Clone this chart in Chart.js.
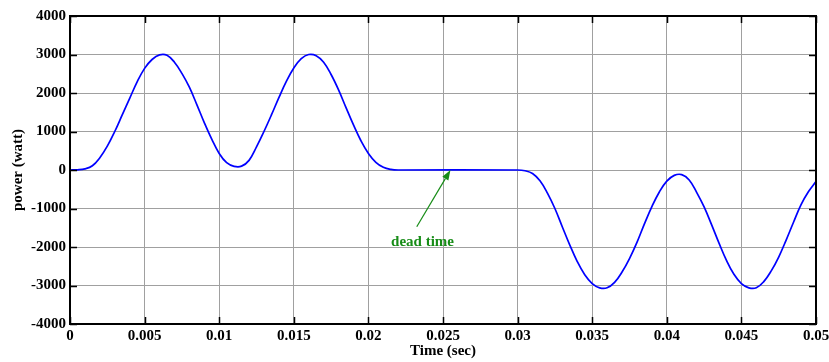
<!DOCTYPE html>
<html>
<head>
<meta charset="utf-8">
<script src="https://cdn.jsdelivr.net/npm/chart.js@4/dist/chart.umd.min.js"></script>
<style>
  html, body { margin: 0; padding: 0; background: #fff; }
  #wrap { width: 829px; height: 362px; }
</style>
</head>
<body>
<div id="wrap"><canvas id="powerChart" width="829" height="362"></canvas></div>
<script>
// time (sec) and power (watt)
const timeSec = [
    0, 0.0005, 0.001, 0.0015, 0.002, 0.0025, 0.003, 0.0035, 0.004, 0.0045,
    0.005, 0.0055, 0.006, 0.0065, 0.007, 0.0075, 0.008, 0.0085, 0.009, 0.0095,
    0.01, 0.0105, 0.011, 0.0115, 0.012, 0.0125, 0.013, 0.0135, 0.014, 0.0145,
    0.015, 0.0155, 0.016, 0.0165, 0.017, 0.0175, 0.018, 0.0185, 0.019, 0.0195,
    0.02, 0.0205, 0.021, 0.0215, 0.022,
    0.03, 0.0305, 0.031, 0.0315, 0.032, 0.0325, 0.033, 0.0335, 0.034, 0.0345,
    0.035, 0.0355, 0.036, 0.0365, 0.037, 0.0375, 0.038, 0.0385, 0.039, 0.0395,
    0.04, 0.0405, 0.041, 0.0415, 0.042, 0.0425, 0.043, 0.0435, 0.044, 0.0445,
    0.045, 0.0455, 0.046, 0.0465, 0.047, 0.0475, 0.048, 0.0485, 0.049, 0.0495,
    0.05
];
const powerWatt = [
    0, 5, 30, 110, 320, 620, 1000, 1430, 1860, 2290,
    2640, 2870, 2990, 2980, 2800, 2510, 2150, 1700, 1230, 800,
    430, 190, 95, 100, 250, 600, 1000, 1430, 1880, 2300,
    2650, 2890, 3000, 2970, 2800, 2480, 2080, 1620, 1170, 760,
    430, 200, 70, 15, 0,
    0, -20, -90, -280, -600, -1000, -1480, -1950, -2380, -2720,
    -2950, -3060, -3060, -2920, -2650, -2300, -1880, -1400, -950, -570,
    -290, -140, -120, -260, -580, -960, -1420, -1900, -2350, -2710,
    -2950, -3060, -3060, -2900, -2620, -2260, -1820, -1350, -900, -560,
    -300
];

const xTicks = [0, 0.005, 0.01, 0.015, 0.02, 0.025, 0.03, 0.035, 0.04, 0.045, 0.05];
const xTickLabels = ["0", "0.005", "0.01", "0.015", "0.02", "0.025", "0.03", "0.035", "0.04", "0.045", "0.05"];
const yTicks = [-4000, -3000, -2000, -1000, 0, 1000, 2000, 3000, 4000];

const noteText = "dead time";
const noteArrow = { from: [0.02324, -1473], to: [0.0255, 0] };
const notePos = [0.02363, -1862];

const serif = "'Liberation Serif', 'Times New Roman', serif";
const green = "#178c17";

const matlabFrame = {
    id: "matlabFrame",
    afterDatasetsDraw(chart) {
        const { ctx, chartArea: a, scales: { x, y } } = chart;
        ctx.save();
        // inward tick marks on all four sides
        ctx.strokeStyle = "#000";
        ctx.lineWidth = 1.5;
        ctx.beginPath();
        x.ticks.forEach(t => {
            const px = Math.round(x.getPixelForValue(t.value)) + 0.5;
            ctx.moveTo(px, a.bottom); ctx.lineTo(px, a.bottom - 7);
            ctx.moveTo(px, a.top); ctx.lineTo(px, a.top + 7);
        });
        y.ticks.forEach(t => {
            const py = Math.round(y.getPixelForValue(t.value)) + 0.5;
            ctx.moveTo(a.left, py); ctx.lineTo(a.left + 7, py);
            ctx.moveTo(a.right, py); ctx.lineTo(a.right - 7, py);
        });
        ctx.stroke();
        ctx.lineWidth = 2;
        ctx.strokeRect(a.left, a.top, a.right - a.left, a.bottom - a.top);

        // "dead time" arrow
        const x0 = x.getPixelForValue(noteArrow.from[0]), y0 = y.getPixelForValue(noteArrow.from[1]);
        const x1 = x.getPixelForValue(noteArrow.to[0]), y1 = y.getPixelForValue(noteArrow.to[1]);
        const ang = Math.atan2(y1 - y0, x1 - x0);
        const hl = 10, hw = 3.5;
        ctx.strokeStyle = green;
        ctx.fillStyle = green;
        ctx.lineWidth = 1.2;
        ctx.beginPath();
        ctx.moveTo(x0, y0);
        ctx.lineTo(x1 - hl * Math.cos(ang), y1 - hl * Math.sin(ang));
        ctx.stroke();
        ctx.beginPath();
        ctx.moveTo(x1, y1);
        ctx.lineTo(x1 - hl * Math.cos(ang) + hw * Math.sin(ang), y1 - hl * Math.sin(ang) - hw * Math.cos(ang));
        ctx.lineTo(x1 - hl * Math.cos(ang) - hw * Math.sin(ang), y1 - hl * Math.sin(ang) + hw * Math.cos(ang));
        ctx.closePath();
        ctx.fill();

        ctx.font = "bold 15px " + serif;
        ctx.textAlign = "center";
        ctx.textBaseline = "middle";
        ctx.fillText(noteText, x.getPixelForValue(notePos[0]), y.getPixelForValue(notePos[1]));
        ctx.restore();
    }
};

const tickFont = { family: serif, size: 15, weight: "bold" };

new Chart(document.getElementById("powerChart"), {
    type: "line",
    data: {
        datasets: [{
            data: timeSec.map((t, i) => ({ x: t, y: powerWatt[i] })),
            borderColor: "#0000ff",
            borderWidth: 1.7,
            pointRadius: 0,
            fill: false,
            tension: 0.4
        }]
    },
    options: {
        responsive: false,
        animation: false,
        layout: { padding: { top: 16, right: 13, left: 0, bottom: 0 } },
        plugins: {
            legend: { display: false },
            tooltip: { enabled: false }
        },
        scales: {
            x: {
                type: "linear",
                min: 0,
                max: 0.05,
                afterBuildTicks: s => { s.ticks = xTicks.map(v => ({ value: v })); },
                afterFit: s => { s.height = 38; s.paddingLeft = 0; s.paddingRight = 0; },
                ticks: {
                    color: "#000",
                    font: tickFont,
                    padding: 3,
                    maxRotation: 0,
                    autoSkip: false,
                    callback: (v, i) => xTickLabels[i]
                },
                grid: { color: "#a0a0a0", lineWidth: 1, drawTicks: false },
                border: { display: false },
                title: {
                    display: true,
                    text: "Time (sec)",
                    color: "#000",
                    font: tickFont,
                    padding: { top: 0, bottom: 2 }
                }
            },
            y: {
                min: -4000,
                max: 4000,
                afterBuildTicks: s => { s.ticks = yTicks.map(v => ({ value: v })); },
                afterFit: s => { s.width = 70; s.paddingTop = 0; s.paddingBottom = 0; },
                ticks: {
                    color: "#000",
                    font: tickFont,
                    padding: 4,
                    autoSkip: false,
                    callback: v => String(v)
                },
                grid: { color: "#a0a0a0", lineWidth: 1, drawTicks: false },
                border: { display: false },
                title: {
                    display: true,
                    text: "power (watt)",
                    color: "#000",
                    font: tickFont,
                    padding: { top: 9, bottom: 0 }
                }
            }
        }
    },
    plugins: [matlabFrame]
});
</script>
</body>
</html>
